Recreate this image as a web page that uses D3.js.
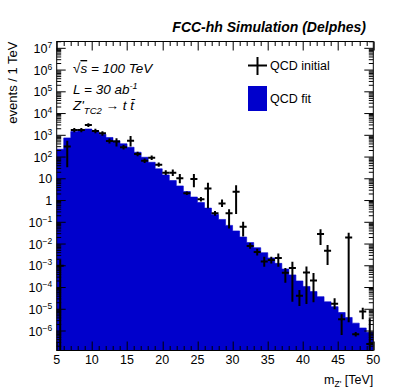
<!DOCTYPE html>
<html>
<head>
<meta charset="utf-8">
<script src="https://cdn.jsdelivr.net/npm/d3@7"></script>
<style>
body { margin: 0; background: #fff; }
text { font-family: "Liberation Sans", Arial, Helvetica, sans-serif; }
</style>
</head>
<body>
<div id="chart"></div>
<script>
// 1 TeV bins from 5 to 50 TeV (lower edges)
var binLow = d3.range(5, 50, 1);

// QCD fit (blue histogram), events / 1 TeV
var qcdFit = [229, 759, 1479, 1862, 1950, 1585, 1122, 794, 562, 407,
    282, 166, 98, 57.5, 28.8, 15.1, 8.3, 4.7, 2.6, 1.45,
    0.81, 0.45, 0.23, 0.135, 0.072, 0.040, 0.021, 0.0117, 0.0068, 0.0040,
    0.0023, 0.00129, 7.1e-4, 3.8e-4, 2.0e-4, 1.12e-4, 6.5e-5, 3.8e-5, 2.2e-5, 1.32e-5,
    7.1e-6, 4.2e-6, 2.3e-6, 1.38e-6, 8.7e-7];

// QCD initial (points) with lower / upper ends of error bars
var qcdInit = [1.0e-3, 302, 1738, 1738, 2951, 1585, 1230, 550, 513, 282,
    562, 138, 67.6, 93.3, 44.7, 19.1, 19.1, 10.5, 2.14, 9.8,
    1.15, 3.6, 0.26, 0.74, 0.26, 2.57, 0.063, 0.0081, 0.0043, 0.00158,
    0.00186, 0.0023, 4.8e-4, 7.8e-4, 4.2e-5, 4.9e-4, 2.1e-4, 0.029, 0.0049, 1.8e-5,
    3.5e-6, 0.020, 7.1e-7, 7.9e-6, 2.5e-7];
var qcdInitLo = [1e-9, 34, 1380, 1380, 2400, 1259, 955, 417, 302, 224,
    302, 110, 53.7, 74.1, 35.5, 14.8, 13.5, 6.2, 1.78, 4.1,
    0.91, 0.44, 0.20, 0.50, 0.052, 0.24, 0.022, 0.0060, 0.0030, 0.00091,
    0.00126, 0.00091, 1.66e-4, 2.2e-5, 1.41e-5, 1.74e-5, 2.1e-5, 0.0091, 0.0011, 1.0e-5,
    6.6e-7, 2.5e-6, 5.6e-7, 3.5e-6, 1e-9];
var qcdInitHi = [1.9e-3, 562, 2188, 2188, 3630, 1995, 1549, 708, 724, 355,
    933, 174, 85.1, 117, 56.2, 24.5, 26.9, 16.6, 2.63, 16.6,
    1.45, 6.6, 0.33, 1.12, 0.40, 5.1, 0.107, 0.0112, 0.0060, 0.0026,
    0.0026, 0.0037, 7.8e-4, 1.55e-3, 7.6e-5, 9.3e-4, 4.6e-4, 0.048, 0.0091, 3.2e-5,
    5.9e-6, 0.033, 8.9e-7, 1.17e-5, 3.9e-6];

var xTicks = d3.range(5, 51, 5);
var yDecades = d3.range(-6, 8).map(function (e) { return Math.pow(10, e); });

var W = 407, H = 390;
var margin = { left: 56.7, right: 33.7, top: 41.5, bottom: 39.5 };
var width = W - margin.left - margin.right;
var height = H - margin.top - margin.bottom;
var blue = "#0000cc";

var svg = d3.select("#chart").append("svg")
    .attr("width", W)
    .attr("height", H);

var g = svg.append("g")
    .attr("transform", "translate(" + margin.left + "," + margin.top + ")");

var x = d3.scaleLinear().domain([5, 50]).range([0, width]);
var y = d3.scaleLog().domain([1.27e-7, 2.06e7]).range([height, 0]);

g.append("clipPath").attr("id", "frameClip")
    .append("rect").attr("width", width).attr("height", height);

var plot = g.append("g").attr("clip-path", "url(#frameClip)");

// blue filled histogram
var steps = [];
binLow.forEach(function (lo, i) {
    steps.push({ x: lo, v: qcdFit[i] });
    steps.push({ x: lo + 1, v: qcdFit[i] });
});
plot.append("path")
    .datum(steps)
    .attr("fill", blue)
    .attr("stroke", blue)
    .attr("stroke-width", 0.6)
    .attr("d", d3.area()
        .x(function (d) { return x(d.x); })
        .y0(height + 2)
        .y1(function (d) { return y(d.v); }));

// QCD initial crosses
var pts = binLow.map(function (lo, i) {
    return { lo: lo, v: qcdInit[i], eLo: qcdInitLo[i], eHi: qcdInitHi[i] };
});
var cross = plot.append("g").selectAll("g").data(pts).enter().append("g")
    .attr("stroke", "#000").attr("stroke-width", 2);
cross.append("line")
    .attr("x1", function (d) { return x(d.lo + 0.5); })
    .attr("x2", function (d) { return x(d.lo + 0.5); })
    .attr("y1", function (d) { return y(d.eLo); })
    .attr("y2", function (d) { return y(d.eHi); });
cross.append("line")
    .attr("x1", function (d) { return x(d.lo); })
    .attr("x2", function (d) { return x(d.lo + 1); })
    .attr("y1", function (d) { return y(d.v); })
    .attr("y2", function (d) { return y(d.v); });

// frame
g.append("rect")
    .attr("width", width).attr("height", height)
    .attr("fill", "none").attr("stroke", "#000").attr("stroke-width", 1);

// x ticks, bottom and top, pointing inward
var majLen = 9, minLen = 4.5;
var ticks = g.append("g").attr("stroke", "#000").attr("stroke-width", 1);
d3.range(5, 51, 1).forEach(function (v) {
    var len = (v % 5 === 0) ? majLen : minLen;
    var px = Math.round(x(v)) + 0.5;
    ticks.append("line").attr("x1", px).attr("x2", px).attr("y1", height).attr("y2", height - len);
    ticks.append("line").attr("x1", px).attr("x2", px).attr("y1", 0).attr("y2", len);
});

// y ticks, left and right
var yMinor = [];
d3.range(-7, 8).forEach(function (e) {
    d3.range(2, 10).forEach(function (k) {
        var v = k * Math.pow(10, e);
        if (v > y.domain()[0] && v < y.domain()[1]) yMinor.push(v);
    });
});
yMinor.forEach(function (v) {
    var py = y(v);
    ticks.append("line").attr("x1", 0).attr("x2", minLen).attr("y1", py).attr("y2", py);
    ticks.append("line").attr("x1", width).attr("x2", width - minLen).attr("y1", py).attr("y2", py);
});
yDecades.forEach(function (v) {
    var py = y(v);
    ticks.append("line").attr("x1", 0).attr("x2", majLen).attr("y1", py).attr("y2", py);
    ticks.append("line").attr("x1", width).attr("x2", width - majLen).attr("y1", py).attr("y2", py);
});

// x tick labels
g.append("g").selectAll("text").data(xTicks).enter().append("text")
    .attr("x", function (d) { return x(d); })
    .attr("y", height + 13.5)
    .attr("text-anchor", "middle")
    .style("font-size", "12.5px")
    .text(function (d) { return d; });

// y tick labels (10^n)
var yl = g.append("g").selectAll("text").data(yDecades).enter().append("text")
    .attr("x", -4.5)
    .attr("y", function (d) { return y(d) + 4.5; })
    .attr("text-anchor", "end")
    .style("font-size", "12.5px");
yl.each(function (d) {
    var e = Math.round(Math.log10(d));
    var t = d3.select(this);
    if (e === 0) { t.text("1"); return; }
    if (e === 1) { t.text("10"); return; }
    t.append("tspan").text("10");
    t.append("tspan").attr("dy", -5).style("font-size", "8.5px")
        .text(e < 0 ? "\u2212" + (-e) : e);
});

// axis titles
svg.append("text")
    .attr("transform", "translate(17," + margin.top + ") rotate(-90)")
    .attr("text-anchor", "end")
    .style("font-size", "13px")
    .text("events / 1 TeV");

var xt = svg.append("text")
    .attr("x", margin.left + width)
    .attr("y", 384)
    .attr("text-anchor", "end")
    .style("font-size", "12.5px");
xt.append("tspan").text("m");
xt.append("tspan").attr("dy", 3).style("font-size", "8.5px").text("Z'");
xt.append("tspan").attr("dy", -3).text(" [TeV]");

// header
svg.append("text")
    .attr("x", 366)
    .attr("y", 32)
    .attr("text-anchor", "end")
    .style("font-size", "14px")
    .style("font-weight", "bold")
    .style("font-style", "italic")
    .text("FCC-hh Simulation (Delphes)");

// info text
var info = svg.append("g").style("font-style", "italic").style("font-size", "13.5px");
var s1 = info.append("text").attr("x", 73).attr("y", 73);
s1.append("tspan").text("\u221A");
s1.append("tspan").style("text-decoration", "overline").text("s");
s1.append("tspan").text(" = 100 TeV");

var s2 = info.append("text").attr("x", 73).attr("y", 93.5);
s2.append("tspan").text("L = 30 ab");
s2.append("tspan").attr("dy", -5).style("font-size", "9px").text("-1");

var s3 = info.append("text").attr("x", 73).attr("y", 110);
s3.append("tspan").text("Z'");
s3.append("tspan").attr("dy", 4).style("font-size", "9.5px").text("TC2");
s3.append("tspan").attr("dy", -4).text(" \u2192 t t\u0304");

// legend
var leg = svg.append("g");
leg.append("line").attr("x1", 248).attr("x2", 267).attr("y1", 65.5).attr("y2", 65.5)
    .attr("stroke", "#000").attr("stroke-width", 2);
leg.append("line").attr("x1", 257.5).attr("x2", 257.5).attr("y1", 57).attr("y2", 75)
    .attr("stroke", "#000").attr("stroke-width", 2);
leg.append("text").attr("x", 270).attr("y", 70).style("font-size", "12.5px").text("QCD initial");
leg.append("rect").attr("x", 248).attr("y", 86).attr("width", 19).attr("height", 25).attr("fill", blue);
leg.append("text").attr("x", 270).attr("y", 103).style("font-size", "12.5px").text("QCD fit");
</script>
</body>
</html>
